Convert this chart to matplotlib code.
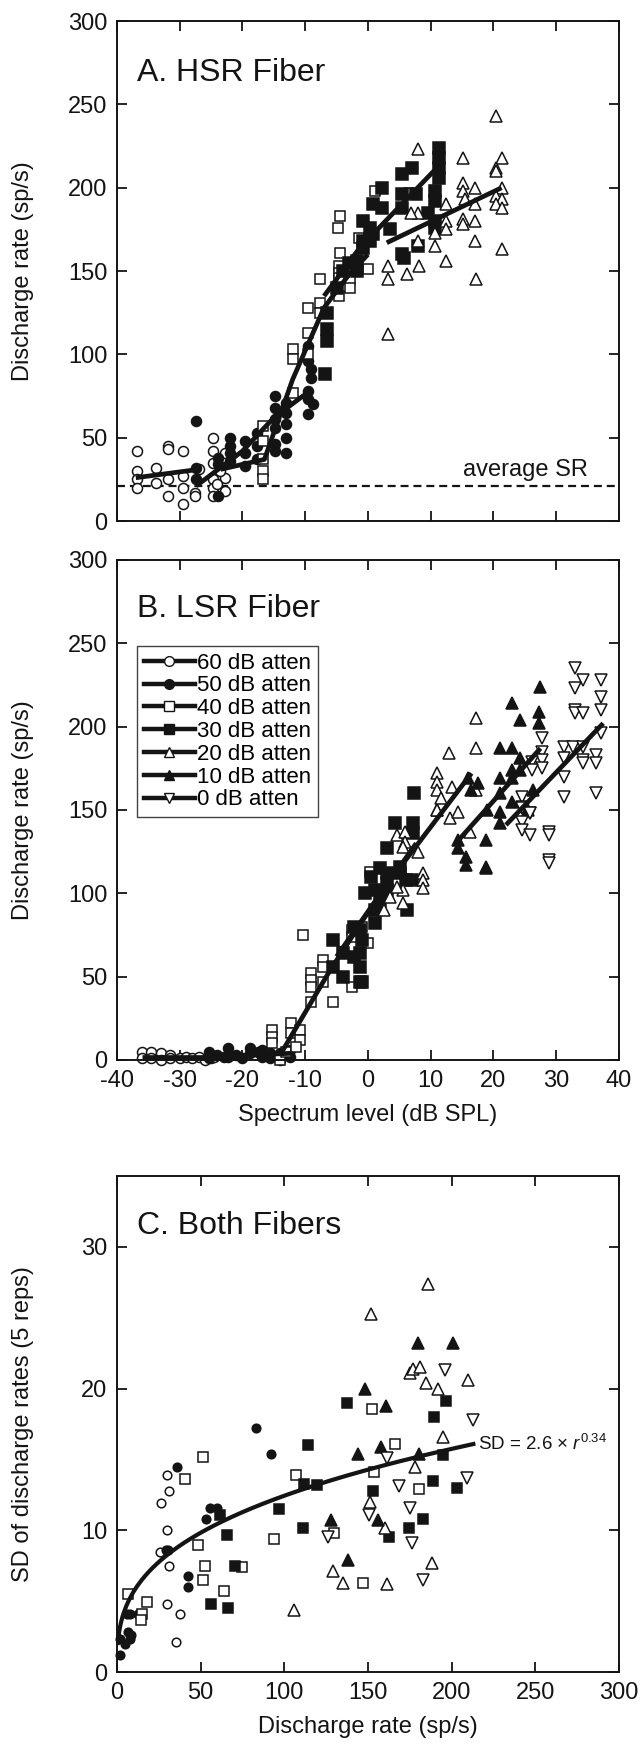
import numpy as np
import matplotlib
matplotlib.use('Agg')
import matplotlib.pyplot as plt
from matplotlib.lines import Line2D

plt.rcParams['font.family'] = ['Liberation Sans', 'DejaVu Sans']
plt.rcParams['axes.unicode_minus'] = False
plt.rcParams['mathtext.fontset'] = 'custom'
plt.rcParams['mathtext.rm'] = 'Liberation Sans'
plt.rcParams['mathtext.it'] = 'Liberation Sans:italic'

ink = '#141414'

###############################################################################
### Data
###############################################################################

labels = ['60 dB atten', '50 dB atten', '40 dB atten', '30 dB atten',
          '20 dB atten', '10 dB atten', '0 dB atten']

# ---- A. HSR fiber: spectrum level (dB SPL) vs discharge rate (sp/s)
a60_x = [-36.8, -36.8, -36.8, -36.8, -33.8, -33.8, -31.8, -31.8, -31.8, -31.8, -29.4, -29.4, -29.4, -29.4,
         -27.6, -27.6, -27.0, -24.7, -24.7, -24.7, -24.7, -24.7, -24.7, -22.8, -22.8, -22.8, -24.0, -23.5]
a60_y = [42, 30, 25, 20, 32, 23, 45, 43, 25, 15, 42, 27, 20, 10,
         17, 15, 31, 50, 42, 35, 25, 20, 15, 41, 26, 18, 22, 30]
a50_x = [-27.4, -27.4, -27.4, -23.9, -23.9, -23.9, -22.0, -22.0, -22.0, -22.0, -19.6, -19.6, -19.6,
         -17.7, -17.7, -17.7, -14.8, -14.8, -14.8, -14.8, -14.8, -14.8, -13.0, -13.0, -13.0, -13.0, -13.0,
         -9.6, -9.6, -9.6, -9.6, -9.6, -9.0, -9.0, -8.8]
a50_y = [60, 32, 25, 38, 34, 15, 50, 45, 41, 36, 48, 41, 33,
         53, 45, 37, 75, 68, 61, 56, 46, 42, 71, 65, 58, 50, 41,
         105, 96, 78, 73, 64, 91, 86, 70]
a40_x = [-16.7, -16.7, -16.7, -16.7, -16.7, -11.9, -11.9, -11.9, -9.5, -9.5, -9.5, -7.6, -7.6, -7.6,
         -4.6, -4.6, -4.6, -4.6, -2.9, -2.9, 0.0, -4.5, -4.7, -4.5, 1.1, 6.5, -1.5]
a40_y = [57, 48, 37, 30, 25, 103, 97, 77, 128, 113, 100, 145, 131, 125,
         153, 149, 146, 135, 145, 140, 151, 183, 176, 161, 198, 197, 170]
a30_x = [-6.9, -6.6, -6.6, -6.6, -5.0, -4.0, -3.0, -1.8, -1.8, -0.75, -0.75, -0.75, 0.3, 0.3, 0.85, 0.85,
         2.2, 2.3, 3.5, 5.4, 5.4, 5.4, 5.4, 5.7, 7.0, 7.6, 8.0, 9.5, 10.7, 10.7, 10.7, 10.7,
         11.4, 11.4, 11.4, 11.4]
a30_y = [88, 125, 115, 108, 140, 150, 155, 156, 150, 180, 168, 164, 176, 168, 190, 172,
         188, 200, 175, 208, 196, 188, 160, 158, 212, 196, 165, 185, 198, 192, 180, 176,
         224, 218, 212, 206]
a20_x = [8.0, 15.2, 20.4, 21.3, 20.4, 20.4, 15.2, 15.2, 17.0, 21.3, 20.4, 21.3, 20.4, 21.3, 15.5, 17.0,
         12.5, 8.0, 6.8, 12.5, 12.5, 15.2, 15.2, 17.0, 10.7, 8.0, 10.7, 17.0, 21.3, 12.4, 3.2, 3.2,
         6.2, 8.2, 17.2, 3.2]
a20_y = [223, 218, 243, 218, 212, 210, 203, 198, 200, 200, 195, 193, 190, 188, 193, 190,
         190, 185, 185, 180, 175, 181, 178, 180, 173, 168, 165, 168, 163, 156, 153, 145,
         148, 153, 145, 112]

# fitted rate-level lines, panel A
a60_fit_x = [-37, -27]
a60_fit_y = [26, 31]
a50_fit_x = [-27.4, -20, -15, -9.3]
a50_fit_y = [21, 42, 62, 78]
a40_fit_x = [-23.5, -16.5, -12, -7, -3, 0]
a40_fit_y = [31, 37, 85, 128, 148, 160]
a30_fit_x = [-7, -1.3, 11]
a30_fit_y = [135, 164, 212]
a20_fit_x = [3, 21.3]
a20_fit_y = [167, 200]
average_sr = 21

# ---- B. LSR fiber
b60_x = [-36, -36, -34.5, -34.5, -33, -33, -31.5, -31.5, -30, -29, -28, -27, -26, -25, -24.5]
b60_y = [5, 1, 5, 1, 4, 0, 3, 1, 1, 2, 1, 2, 0, 1, 2]
b50_x = [-25.4, -25.4, -24, -23, -22.3, -22.3, -21, -20, -18.8, -18.8, -17.5, -16.9, -16.9,
         -15.6, -15.6, -14, -14, -12.4, -12.4]
b50_y = [5, 1, 3, 2, 7, 2, 3, 1, 7, 4, 5, 6, 2, 4, 1, 4, 0, 6, 2]
b40_x = [-15.3, -15.3, -15.3, -14, -12.2, -12.2, -10.8, -10.8, -10.3, -9, -9, -9, -9, -7.1, -7.1, -7.1,
         -5.5, -2.6, -2.6, -2.6, 0.3, -1, 0, -4, -13, -11.5]
b40_y = [18, 14, 10, 0, 22, 16, 18, 12, 75, 52, 48, 44, 35, 60, 56, 47,
         35, 78, 74, 44, 113, 80, 70, 65, 5, 8]
b30_x = [-5.5, -5.5, -3.9, -3.9, -2.3, -2.3, -1, -1, -1.3, -1.3, -1.3, -1.3, 1.1, 1.1, 1.1, 3, 3, 3, 3,
         4.3, 5.1, 5.1, 6.2, 7.2, 7.2, 7.3, 6, 7, -0.5, 0.5, 2, 2]
b30_y = [72, 56, 64, 50, 80, 62, 72, 47, 78, 64, 56, 47, 102, 90, 82, 127, 112, 106, 102,
         142, 116, 112, 90, 142, 136, 160, 108, 108, 100, 110, 95, 115]
b20_x = [4.6, 5.9, 5.9, 5.6, 5.6, 4.6, 5.6, 8.8, 8.8, 8.8, 8, 11, 13.1, 14.4, 16.3, 13, 17.3, 17.3,
         11, 11, 11, 11, 13.4, 11.6, 17.3, 2.5, 3.5]
b20_y = [135, 137, 131, 128, 102, 104, 94, 112, 108, 103, 125, 150, 145, 149, 137, 184, 205, 187,
         172, 167, 162, 150, 164, 157, 162, 90, 98]
b10_x = [27.4, 23, 24.3, 27.3, 27.3, 21, 22.9, 24.3, 24.3, 22.9, 22.9, 21, 16, 17.6, 16.5, 21, 22.9,
         26.3, 14.4, 14.4, 15.7, 15.7, 18.8, 18.8, 18.8, 21, 21, 19, 25.5]
b10_y = [224, 214, 204, 209, 202, 187, 187, 181, 174, 174, 169, 169, 169, 166, 162, 160, 155,
         162, 132, 127, 122, 117, 132, 116, 115, 149, 142, 150, 150]
b0_x = [33, 34.3, 37.2, 33, 37.2, 33, 33, 34.3, 37.2, 37.2, 27.8, 27.8, 27.8, 27.8, 31.2, 32.7, 34.3,
        31.2, 34.3, 34.3, 36.3, 36.3, 26.1, 26.1, 31.2, 31.2, 36.3, 24.5, 24.5, 25.8, 24.5, 25.8,
        24.5, 24.5, 25.8, 28.9, 28.9, 28.9, 28.9]
b0_y = [235, 228, 228, 223, 218, 210, 208, 208, 210, 196, 193, 185, 180, 175, 188, 188, 188,
        181, 180, 178, 183, 178, 179, 174, 170, 158, 160, 158, 152, 148, 151, 148,
        143, 138, 135, 137, 135, 120, 118]

b60_fit_x = [-36, -25]
b60_fit_y = [2, 2]
b50_fit_x = [-25, -12]
b50_fit_y = [2, 4]
b40_fit_x = [-14, -6, 2]
b40_fit_y = [3, 54, 100]
b30_fit_x = [-5, -1.3, 7.7]
b30_fit_y = [62, 82, 130]
b20_fit_x = [4, 16.5]
b20_fit_y = [110, 172]
b10_fit_x = [14, 27.5]
b10_fit_y = [130, 187]
b0_fit_x = [22, 37.5]
b0_fit_y = [141, 202]

# ---- C. both fibers: mean rate vs SD over 5 reps
c60_x = [29.7, 31.3, 26.1, 30.1, 25.7, 31.3, 29.7, 37.7, 35.3]
c60_y = [13.9, 12.8, 11.9, 10.0, 8.5, 7.5, 4.8, 4.1, 2.1]
c50_x = [35.7, 91.9, 82.9, 55.6, 59.6, 53.2, 29.3, 30.7, 42.6, 42.6, 12.7, 7.8, 5.8, 6.8, 7.5, 1.8, 1.6, 8.5, 4.5]
c50_y = [14.5, 15.4, 17.2, 11.6, 11.6, 10.8, 8.6, 8.6, 6.8, 6.0, 4.1, 4.1, 4.1, 2.8, 2.3, 2.3, 1.2, 2.6, 2.0]
c40_x = [51.2, 40.6, 107, 48.2, 93.8, 52.6, 74.5, 51.2, 64, 6.8, 18.1, 14.8, 14.2, 129.7, 152.2, 166.2,
         153.6, 180.7, 147.2]
c40_y = [15.2, 13.6, 13.9, 9.0, 9.4, 7.5, 7.4, 6.5, 5.7, 5.5, 4.95, 4.1, 3.7, 9.8, 18.6, 16.1,
         14.1, 12.9, 6.3]
c30_x = [137.7, 114.4, 111.8, 119.4, 97, 61.6, 65.6, 111.4, 70.5, 56, 66.5, 196.6, 189.5, 195, 188.7,
         203.4, 152.8, 162.8, 174.8, 183.1]
c30_y = [19.0, 16.0, 13.3, 13.2, 11.5, 11.1, 9.7, 10.2, 7.5, 4.8, 4.5, 19.1, 18.0, 15.3, 13.5,
         13.0, 12.8, 9.5, 10.2, 10.8]
c20_x = [185.7, 151.6, 175.1, 176.7, 181.1, 184.5, 192.1, 210, 195, 178.1, 151.2, 160.2, 188.1, 161.2,
         128.9, 135.3, 105.8]
c20_y = [27.4, 25.3, 21.1, 21.4, 21.5, 20.4, 20.0, 20.6, 16.6, 14.5, 12.0, 10.2, 7.7, 6.2,
         7.1, 6.3, 4.4]
c10_x = [179.7, 200.6, 148.2, 160.8, 157.6, 180.7, 156.2, 127.7, 137.8, 144.3]
c10_y = [23.2, 23.2, 20.0, 18.8, 15.9, 15.4, 10.7, 10.7, 7.9, 15.4]
c0_x = [196, 212.6, 161.6, 209.4, 168.8, 150.8, 175.1, 176.1, 183.1, 126.3]
c0_y = [21.3, 17.8, 15.1, 13.7, 13.1, 11.1, 11.6, 9.1, 6.5, 9.5]

# power-law fit printed on the figure: SD = 2.6 * r^0.34
fit_a = 2.6
fit_b = 0.34
fit_r_max = 213

###############################################################################
### Plotting
###############################################################################

styles = [('o', False), ('o', True), ('s', False), ('s', True), ('^', False), ('^', True), ('v', False)]
ms_ab = [7.2, 7.2, 7.6, 8.2, 8.2, 8.2, 8.2]
ms_c = [6.2, 6.2, 7.0, 7.2, 8.0, 8.0, 8.0]


def scatter(ax, x, y, style, ms):
    marker, filled = style
    ax.plot(x, y, linestyle='none', marker=marker, ms=ms, mew=1.1,
            mec=ink, mfc=ink if filled else 'white', zorder=2, clip_on=False)


def style_axes(ax):
    ax.tick_params(direction='in', length=7, width=1.3, top=True, right=True,
                   labelsize=17, pad=7, colors=ink)
    for s in ax.spines.values():
        s.set_linewidth(1.4)
        s.set_color(ink)


fig = plt.figure(figsize=(6.41, 17.45), dpi=100)
axA = fig.add_axes([0.1825, 0.7014, 0.783, 0.2865])
axB = fig.add_axes([0.1825, 0.3926, 0.783, 0.2865])
axC = fig.add_axes([0.1825, 0.0418, 0.783, 0.2842])

# panel A
a_pts = [(a60_x, a60_y), (a50_x, a50_y), (a40_x, a40_y), (a30_x, a30_y), (a20_x, a20_y)]
for i, (x, y) in enumerate(a_pts):
    scatter(axA, x, y, styles[i], ms_ab[i])
for x, y in [(a60_fit_x, a60_fit_y), (a50_fit_x, a50_fit_y), (a40_fit_x, a40_fit_y),
             (a30_fit_x, a30_fit_y), (a20_fit_x, a20_fit_y)]:
    axA.plot(x, y, color=ink, lw=3.4, solid_capstyle='butt', zorder=3)
axA.axhline(average_sr, color=ink, lw=1.6, dashes=(3.6, 2.2), zorder=1)
axA.text(35, average_sr + 3, 'average SR', ha='right', va='bottom', fontsize=17, color=ink)
axA.text(0.04, 0.88, 'A. HSR Fiber', transform=axA.transAxes, fontsize=23, color=ink)
axA.set_xlim(-40, 40)
axA.set_ylim(0, 300)
axA.set_xticks(np.arange(-40, 41, 10))
axA.set_yticks(np.arange(0, 301, 50))
axA.set_ylabel('Discharge rate (sp/s)', fontsize=17, color=ink)
axA.yaxis.set_label_coords(-0.165, 0.5)
style_axes(axA)
axA.tick_params(labelbottom=False)

# panel B
b_pts = [(b60_x, b60_y), (b50_x, b50_y), (b40_x, b40_y), (b30_x, b30_y), (b20_x, b20_y),
         (b10_x, b10_y), (b0_x, b0_y)]
for i, (x, y) in enumerate(b_pts):
    scatter(axB, x, y, styles[i], ms_ab[i])
for x, y in [(b60_fit_x, b60_fit_y), (b50_fit_x, b50_fit_y), (b40_fit_x, b40_fit_y),
             (b30_fit_x, b30_fit_y), (b20_fit_x, b20_fit_y), (b10_fit_x, b10_fit_y),
             (b0_fit_x, b0_fit_y)]:
    axB.plot(x, y, color=ink, lw=3.4, solid_capstyle='butt', zorder=3)
axB.text(0.04, 0.886, 'B. LSR Fiber', transform=axB.transAxes, fontsize=23, color=ink)
axB.set_xlim(-40, 40)
axB.set_ylim(0, 300)
axB.set_xticks(np.arange(-40, 41, 10))
axB.set_yticks(np.arange(0, 301, 50))
axB.set_xlabel('Spectrum level (dB SPL)', fontsize=17, color=ink, labelpad=9)
axB.set_ylabel('Discharge rate (sp/s)', fontsize=17, color=ink)
axB.yaxis.set_label_coords(-0.165, 0.5)
style_axes(axB)

handles = []
for (marker, filled), lab in zip(styles, labels):
    handles.append(Line2D([], [], color=ink, lw=3.2, marker=marker, ms=7, mew=1.0,
                          mec=ink, mfc=ink if filled else 'white', label=lab))
leg = axB.legend(handles=handles, loc='upper left', bbox_to_anchor=(0.04, 0.828),
                 fontsize=16, frameon=True, fancybox=False, numpoints=1,
                 handlelength=2.3, handletextpad=0.1, labelspacing=0.08,
                 borderpad=0.3, borderaxespad=0)
leg.get_frame().set_edgecolor(ink)
leg.get_frame().set_linewidth(1.0)

# panel C
c_pts = [(c60_x, c60_y), (c50_x, c50_y), (c40_x, c40_y), (c30_x, c30_y), (c20_x, c20_y),
         (c10_x, c10_y), (c0_x, c0_y)]
for i, (x, y) in enumerate(c_pts):
    scatter(axC, x, y, styles[i], ms_c[i])
r = np.linspace(0.5, fit_r_max, 300)
axC.plot(r, fit_a * r ** fit_b, color=ink, lw=3, zorder=3)
axC.text(fit_r_max + 3, fit_a * fit_r_max ** fit_b, r'SD = 2.6 × $\it{r}^{0.34}$',
         fontsize=13.5, va='center', ha='left', color=ink)
axC.text(0.04, 0.883, 'C. Both Fibers', transform=axC.transAxes, fontsize=23, color=ink)
axC.set_xlim(0, 300)
axC.set_ylim(0, 35)
axC.set_xticks(np.arange(0, 301, 50))
axC.set_yticks([0, 10, 20, 30])
axC.set_xlabel('Discharge rate (sp/s)', fontsize=17, color=ink, labelpad=9)
axC.set_ylabel('SD of discharge rates (5 reps)', fontsize=17, color=ink)
axC.yaxis.set_label_coords(-0.165, 0.5)
style_axes(axC)

fig.savefig('out.png', dpi=100)
